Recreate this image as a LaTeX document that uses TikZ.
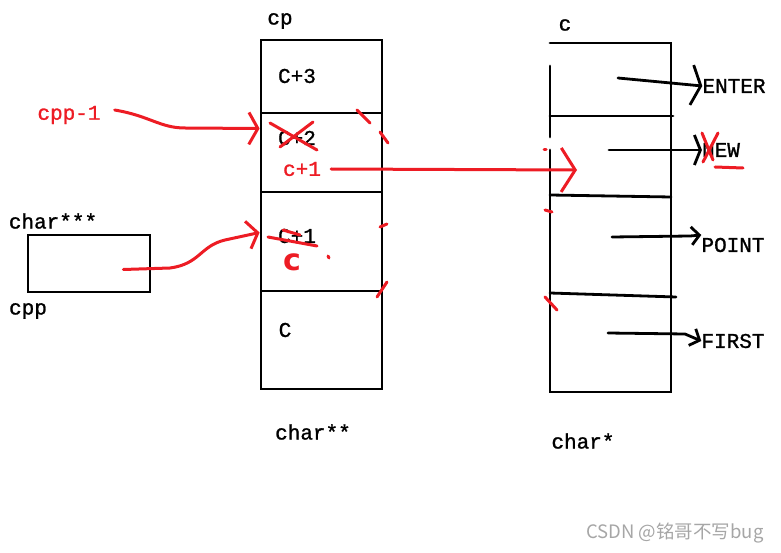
\documentclass[tikz,border=0pt]{standalone}
\usepackage{fontspec}
\setmainfont{Liberation Mono}[FakeBold=1.2]
\setsansfont{DejaVu Sans}
\newfontfamily\cjk{Noto Sans CJK SC}
\usetikzlibrary{arrows.meta,positioning}
\definecolor{paintred}{HTML}{ED1C24}
\tikzset{
  box/.style={draw, line width=2.8pt, inner sep=0pt, minimum width=121pt},
  lbl/.style={inner sep=0pt, font=\fontsize{21}{21}\selectfont},
  redlbl/.style={lbl, text=paintred},
  wire/.style={line width=2.8pt, line cap=round},
  redwire/.style={wire, draw=paintred, line width=3pt},
  scribble/.style={draw=paintred, line width=3pt, line cap=round},
}

\begin{document}
\begin{tikzpicture}[x=1pt, y=-1pt]
  \useasboundingbox (0,0) rectangle (781,553);

  % --- char** array (cp) ---
  \node[box, minimum height=73pt] (cp3) at (321.5,76.5) {};
  \node[box, minimum height=79pt] (cp2) at (321.5,152.5) {};
  \node[box, minimum height=99pt] (cp1) at (321.5,241.5) {};
  \node[box, minimum height=98pt] (cp0) at (321.5,340) {};
  \node[lbl] (cpname) at (280,21) {cp};
  \node[lbl] (t3) at (297,76) {C+3};
  \node[lbl] (t2) at (297,138) {C+2};
  \node[lbl] (t1) at (297,236) {C+1};
  \node[lbl] (t0) at (285,330) {C};
  \node[lbl] (dstar) at (313,432) {char**};

  % --- char*** cell (cpp) ---
  \node[box, minimum width=122pt, minimum height=57pt] (cppbox) at (89,263.5) {};
  \node[lbl] (tstar) at (53,221) {char***};
  \node[lbl] (cppname) at (28,311) {cpp};

  % --- char* array (c) ---
  \draw[wire] (550,150) -- (550,392) -- (671,392) -- (671,43) -- (550,43);
  \draw[wire] (550,66) -- (550,137);
  \draw[wire] (550,116) -- (673,116);
  \draw[wire] (550,195) -- (671,197);
  \draw[wire] (550,293) -- (676,297);
  \node[lbl] (cname) at (565,25) {c};
  \node[lbl] (sstar) at (583,441) {char*};
  \coordinate (cE) at (618,78);
  \coordinate (cN) at (609,150);
  \coordinate (cP) at (612,237);
  \coordinate (cF) at (608,333);
  \coordinate (cnew) at (577,170);

  % strings
  \node[lbl] (enter) at (734,86) {ENTER};
  \node[lbl] (new) at (721,150) {NEW};
  \node[lbl] (point) at (733,245) {POINT};
  \node[lbl] (first) at (733,341) {FIRST};

  \draw[wire, -{Straight Barb[length=9pt,width=40pt]}] (cE) -- (enter.west);
  \draw[wire, -{Straight Barb[length=6pt,width=30pt]}] (cN) -- (new.west);
  \draw[wire, -{Straight Barb[length=8pt,width=18pt]}] (cP) -- (690,236) -- ([yshift=10pt]point.west);
  \draw[wire, -{Straight Barb[length=8pt,width=18pt]}] (cF) -- (685,334) -- (first.west);

  % --- red notes ---
  \node[redlbl] (cppm1) at (69,115) {cpp-1};
  \node[redlbl] (cplus) at (302,169) {c+1};
  \node[inner sep=0pt, text=paintred, font=\fontsize{30}{30}\sffamily\bfseries] (credc) at (292,262) {c};

  \draw[redwire, -{Straight Barb[length=9pt,width=32pt]}]
    ([shift={(14pt,5pt)}]cppm1.east) .. controls (150,116) and (160,128) .. (185,128)
    -- ([yshift=24pt]cp2.west);
  \draw[redwire, -{Straight Barb[length=10pt,width=28pt]}]
    ([shift={(-28pt,-6pt)}]cppbox.east) -- (170,268)
    .. controls (200,264) and (200,246) .. (225,240) -- ([yshift=9pt]cp1.west);
  \draw[redwire, -{Straight Barb[length=14pt,width=44pt]}] ([xshift=10pt]cplus.east) -- (cnew);

  % crossings out
  \draw[scribble] (270,123) -- (317,150);
  \draw[scribble] (313,122) -- (280,147);
  \draw[scribble] (268,237) -- (317,246);
  \draw[scribble] (283,230) -- (300,235);
  \draw[scribble] (702,133) -- (713,160);
  \draw[scribble] (718,133) -- (703,162);
  \draw[scribble] (715,167) -- (743,168);

  % dashed edges
  \draw[scribble] (357,110) -- (370,123);
  \draw[scribble] (380,132) -- (388,143);
  \draw[scribble] (380,227) -- (387,224);
  \draw[scribble] (328,256) -- (329,258);
  \draw[scribble] (387,282) -- (377,297);
  \draw[scribble] (544,150) -- (546,150);
  \draw[scribble] (545,210) -- (552,212);
  \draw[scribble] (545,297) -- (557,310);

  \node[inner sep=0pt, text=gray!70, font=\cjk\fontsize{18.5}{18.5}\selectfont] (wm) at (675,533) {CSDN @铭哥不写bug};
\end{tikzpicture}
\end{document}
